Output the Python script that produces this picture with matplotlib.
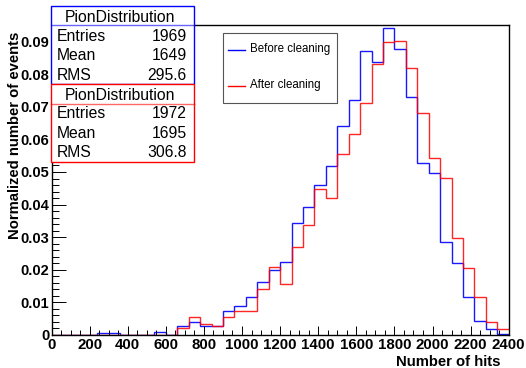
import numpy as np
import matplotlib
matplotlib.use("Agg")
import matplotlib.pyplot as plt
from matplotlib.patches import Rectangle
from matplotlib.ticker import MultipleLocator

plt.rcParams['font.family'] = ['Liberation Sans', 'DejaVu Sans']

# ---- data ----
bin_edges = np.arange(0, 2401, 60)
before_cleaning = [0, 0, 0, 0, 0.0005, 0.0005, 0, 0, 0, 0.0008,
                   0, 0.0029, 0.0039, 0.0029, 0.0029, 0.0075, 0.0090, 0.0116, 0.0162, 0.0199,
                   0.0225, 0.0343, 0.0394, 0.0460, 0.0518, 0.0641, 0.0720, 0.0872, 0.0836, 0.0941,
                   0.0877, 0.0729, 0.0529, 0.0498, 0.0286, 0.0220, 0.0116, 0.0044, 0.0017, 0.0003]
after_cleaning = [0, 0, 0, 0, 0, 0, 0, 0, 0, 0,
                  0, 0.0023, 0.0054, 0.0034, 0.0029, 0.0054, 0.0075, 0.0075, 0.0141, 0.0208,
                  0.0156, 0.0271, 0.0337, 0.0447, 0.0419, 0.0554, 0.0618, 0.0713, 0.0831, 0.0898,
                  0.0903, 0.0820, 0.0682, 0.0544, 0.0481, 0.0297, 0.0205, 0.0116, 0.0039, 0.0017]
x_ticks = list(range(0, 2401, 200))
y_ticks = [0, 0.01, 0.02, 0.03, 0.04, 0.05, 0.06, 0.07, 0.08, 0.09]
y_tick_labels = ["0", "0.01", "0.02", "0.03", "0.04", "0.05", "0.06", "0.07", "0.08", "0.09"]
stat_title = "PionDistribution"
stats_before = [("Entries", "1969"), ("Mean", "1649"), ("RMS", "295.6")]
stats_after = [("Entries", "1972"), ("Mean", "1695"), ("RMS", "306.8")]
legend_labels = ["Before cleaning", "After cleaning"]

W, H = 526, 368
fig = plt.figure(figsize=(W / 100, H / 100), dpi=100)
L, R, T, B = 51.5, 508.7, 25, 335
ax = fig.add_axes([L / W, (H - B) / H, (R - L) / W, (B - T) / H])

ax.stairs(before_cleaning, bin_edges, color=(0, 0, 1), lw=1.0, alpha=0.9, baseline=None)
ax.stairs(after_cleaning, bin_edges, color=(1, 0, 0), lw=1.0, alpha=0.85, baseline=None)

ax.set_xlim(0, 2400)
ax.set_ylim(0, 0.09509)
ax.set_xticks(x_ticks)
ax.set_xticklabels([str(v) for v in x_ticks])
ax.set_yticks(y_ticks)
ax.set_yticklabels(y_tick_labels)
ax.xaxis.set_minor_locator(MultipleLocator(50))
ax.yaxis.set_minor_locator(MultipleLocator(0.002))
ax.tick_params(axis='x', which='major', direction='in', length=6.5, width=0.7, pad=2,
               labelsize=10.8, top=False)
ax.tick_params(axis='x', which='minor', direction='in', length=3.3, width=0.7, top=False)
ax.tick_params(axis='y', which='major', direction='in', length=10, width=0.7, pad=1.5,
               labelsize=10.5, right=False)
ax.tick_params(axis='y', which='minor', direction='in', length=5, width=0.7, right=False)
for lab in ax.get_xticklabels() + ax.get_yticklabels():
    lab.set_fontweight('bold')
for s in ax.spines.values():
    s.set_linewidth(1.0)

# overlay in pixel coordinates
ov = fig.add_axes([0, 0, 1, 1], zorder=5)
ov.set_xlim(0, W)
ov.set_ylim(H, 0)
ov.axis('off')
ov.patch.set_visible(False)

ov.text(15, 135, "Normalized number of events", rotation=90, ha='center', va='center',
        fontsize=10.7, fontweight='bold')
ov.text(501, 362, "Number of hits", ha='right', va='center', fontsize=10.7, fontweight='bold')


def stat_box(y0, y1, ysep, color, stats, title_y, row_ys):
    ov.add_patch(Rectangle((51, y0), 143, y1 - y0, facecolor='white', edgecolor=color, lw=1.0))
    ov.plot([51, 194], [ysep, ysep], color=color, lw=1.0, alpha=0.6)
    ov.text(120, title_y, stat_title, ha='center', va='center', fontsize=11.3)
    for (k, v), yy in zip(stats, row_ys):
        ov.text(57, yy, k, ha='left', va='center', fontsize=11.3)
        ov.text(187, yy, v, ha='right', va='center', fontsize=11.3)


stat_box(6, 84, 25.3, (0, 0, 1), stats_before, 17.3, [36.5, 56, 75.5])
stat_box(84, 162, 103.7, (1, 0, 0), stats_after, 95, [114, 133.5, 152.5])

# legend
ov.add_patch(Rectangle((223.7, 34.3), 114, 70, facecolor='black', edgecolor='none'))
ov.add_patch(Rectangle((222.7, 33.3), 114, 70, facecolor='white', edgecolor='#555555', lw=0.8))
ov.plot([228, 245], [50, 50], color=(0, 0, 1), lw=1.0)
ov.plot([228, 245], [86, 86], color=(1, 0, 0), lw=1.0)
ov.text(250, 49, legend_labels[0], ha='left', va='center', fontsize=8.3)
ov.text(250, 85, legend_labels[1], ha='left', va='center', fontsize=8.3)

fig.savefig("out.png", dpi=100)
